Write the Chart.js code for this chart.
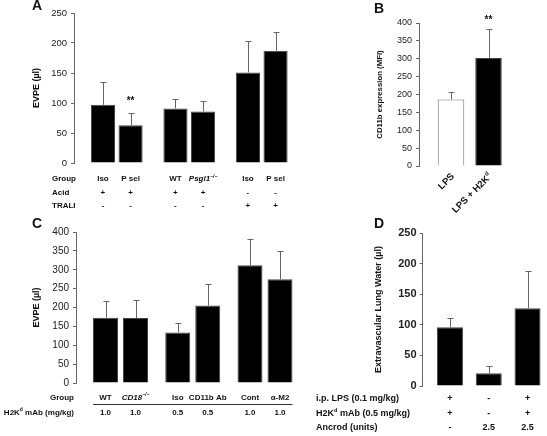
<!DOCTYPE html>
<html>
<head>
<meta charset="utf-8">
<script src="https://cdn.jsdelivr.net/npm/chart.js@4.4.1/dist/chart.umd.min.js"></script>
<style>
  html, body { margin: 0; padding: 0; background: #fff; }
  #wrap { position: relative; width: 547px; height: 436px; overflow: hidden; }
  canvas { position: absolute; }
  .letter { position: absolute; font: bold 14px "Liberation Sans", Arial, sans-serif; line-height: 14px; color: #111; }
</style>
</head>
<body>
<div id="wrap">
  <canvas id="cA" width="300" height="215" style="left:0;top:0"></canvas>
  <canvas id="cB" width="247" height="215" style="left:300px;top:0"></canvas>
  <canvas id="cC" width="300" height="221" style="left:0;top:215px"></canvas>
  <canvas id="cD" width="247" height="221" style="left:300px;top:215px"></canvas>
  <div class="letter" style="left:32px;top:-2px">A</div>
  <div class="letter" style="left:374px;top:1px">B</div>
  <div class="letter" style="left:32px;top:216px">C</div>
  <div class="letter" style="left:374px;top:216px">D</div>
</div>
<script>
// ---- data ----
// rich labels: plain string, or list of [text, flags] (i = italic, s = superscript)
const KO = [['−/−', 'is']];

// Panel A: acid / TRALI EVPE, pairs of bars
const aGroupIdx = [0, 1, 2];
const aLeft = [97, 91, 151];
const aLeftErr = [38, 16, 52];
const aRight = [63, 86, 187];
const aRightErr = [20, 17, 31];
const aRightStars = ['**', '', ''];
const aGroupL = ['Iso', 'WT', 'Iso'];
const aGroupR = ['P sel', [['Psgl1', 'i']].concat(KO), 'P sel'];
const aAcidL = ['+', '+', '-'];
const aAcidR = ['+', '+', '-'];
const aTraliL = ['-', '-', '+'];
const aTraliR = ['-', '-', '+'];
const aTicks = [0, 50, 100, 150, 200, 250];

// Panel B: CD11b expression
const bIdx = [0, 1];
const bValues = [186, 302];
const bErr = [20, 81];
const bStars = ['', '**'];
const bLabels = ['LPS', [['LPS + H2K', ''], ['d', 's']]];
const bTicks = [0, 50, 100, 150, 200, 250, 300, 350, 400];

// Panel C: EVPE after H2Kd mAb
const cGroupIdx = [0, 1, 2];
const cLeft = [173, 134, 312];
const cLeftErr = [45, 26, 70];
const cRight = [172, 205, 275];
const cRightErr = [49, 58, 75];
const cGroupL = ['WT', 'Iso', 'Cont'];
const cGroupR = [[['CD18', 'i']].concat(KO), 'CD11b Ab', 'α-M2'];
const cDoseL = ['1.0', '0.5', '1.0'];
const cDoseR = ['1.0', '0.5', '1.0'];
const cTicks = [0, 50, 100, 150, 200, 250, 300, 350, 400];

// Panel D: extravascular lung water
const dIdx = [0, 1, 2];
const dValues = [96, 21, 127];
const dErr = [15, 11, 61];
const dLps = ['+', '-', '+'];
const dMab = ['+', '-', '+'];
const dAncrod = ['-', '2.5', '2.5'];
const dTicks = [0, 50, 100, 150, 200, 250];

// ---- drawing helpers ----
const FONT = '"Liberation Sans", Arial, sans-serif';
const INK = '#111';

function drawRich(ctx, label, x, y, align, size, bold) {
  const parts = typeof label === 'string' ? [[label, '']] : label;
  const fontFor = f => (f.includes('i') ? 'italic ' : '') + (bold ? 'bold ' : '') +
    (f.includes('s') ? size * 0.62 : size) + 'px ' + FONT;
  let total = 0;
  parts.forEach(([t, f]) => { ctx.font = fontFor(f); total += ctx.measureText(t).width; });
  let cx = align === 'center' ? x - total / 2 : align === 'right' ? x - total : x;
  ctx.textAlign = 'left';
  ctx.textBaseline = 'middle';
  parts.forEach(([t, f]) => {
    ctx.font = fontFor(f);
    ctx.fillText(t, cx, f.includes('s') ? y - size * 0.35 : y);
    cx += ctx.measureText(t).width;
  });
}

const errorBars = {
  id: 'errorBars',
  afterDatasetsDraw(chart) {
    const { ctx } = chart;
    const yScale = chart.scales.y;
    ctx.save();
    chart.data.datasets.forEach((ds, di) => {
      chart.getDatasetMeta(di).data.forEach((bar, i) => {
        const v = ds.data[i].y;
        const top = Math.round(yScale.getPixelForValue(v + ds.errors[i])) + 0.5;
        const x = Math.round(bar.x) + 0.5;
        ctx.strokeStyle = '#666';
        ctx.lineWidth = 1;
        ctx.beginPath();
        ctx.moveTo(x, bar.y);
        ctx.lineTo(x, top);
        ctx.moveTo(x - 3, top);
        ctx.lineTo(x + 3, top);
        ctx.stroke();
        if (ds.stars && ds.stars[i]) {
          ctx.fillStyle = INK;
          drawRich(ctx, ds.stars[i], bar.x, top - ds.starGap, 'center', 10, true);
        }
      });
    });
    ctx.restore();
  }
};

// table of row labels under the bars, columns follow the bars
function tablePlugin(cfg) {
  return {
    id: 'table',
    afterDraw(chart) {
      const ctx = chart.ctx;
      ctx.save();
      ctx.fillStyle = INK;
      cfg.rows.forEach(row => {
        drawRich(ctx, row.head, cfg.headX, row.y, cfg.headAlign, cfg.size, true);
        row.cells.forEach((cells, di) => {
          chart.getDatasetMeta(di).data.forEach((bar, i) => {
            drawRich(ctx, cells[i], bar.x, row.y, 'center', cfg.size, true);
          });
        });
      });
      if (cfg.ruleY) {
        const first = chart.getDatasetMeta(0).data[0];
        const lastMeta = chart.getDatasetMeta(chart.data.datasets.length - 1).data;
        const last = lastMeta[lastMeta.length - 1];
        ctx.strokeStyle = '#333';
        ctx.lineWidth = 1;
        ctx.beginPath();
        ctx.moveTo(first.x - first.width / 2, cfg.ruleY + 0.5);
        ctx.lineTo(last.x + last.width / 2, cfg.ruleY + 0.5);
        ctx.stroke();
      }
      if (cfg.rotated) {
        chart.getDatasetMeta(0).data.forEach((bar, i) => {
          ctx.save();
          ctx.translate(bar.x + 2, chart.chartArea.bottom + 9);
          ctx.rotate(-Math.PI / 4);
          drawRich(ctx, cfg.rotated[i], 0, 0, 'right', cfg.size, true);
          ctx.restore();
        });
      }
      ctx.restore();
    }
  };
}

function yScale(ticks, w, tickFont, title, titleFont, tickLen, tickPad) {
  return {
    min: 0,
    max: ticks[ticks.length - 1],
    afterFit: s => { s.width = w; },
    afterBuildTicks: s => { s.ticks = ticks.map(v => ({ value: v })); },
    ticks: { font: tickFont, color: '#222', padding: tickPad },
    grid: { drawOnChartArea: false, tickLength: tickLen, color: '#666' },
    border: { color: '#666' },
    title: { display: true, text: title, font: titleFont, color: INK, padding: { top: 4, bottom: 0 } }
  };
}

function xScale(idx, min, max) {
  return {
    type: 'linear',
    display: false,
    offset: false,
    grid: { offset: false },
    min, max,
    afterBuildTicks: s => { s.ticks = idx.map(v => ({ value: v })); }
  };
}

const pts = (idx, vals) => vals.map((v, i) => ({ x: idx[i], y: v }));

function makeChart(id, datasets, scales, padding, plugins, barOpts) {
  return new Chart(document.getElementById(id), {
    type: 'bar',
    data: { datasets },
    options: {
      responsive: false,
      animation: false,
      devicePixelRatio: 1,
      layout: { padding },
      datasets: { bar: barOpts },
      plugins: { legend: { display: false }, tooltip: { enabled: false } },
      scales
    },
    plugins: [errorBars].concat(plugins)
  });
}

const blackBar = { backgroundColor: '#000', borderColor: '#444', borderWidth: 1 };

// Panel A
makeChart('cA', [
  Object.assign({ data: pts(aGroupIdx, aLeft), errors: aLeftErr }, blackBar),
  Object.assign({ data: pts(aGroupIdx, aRight), errors: aRightErr, stars: aRightStars, starGap: 12 }, blackBar)
], {
  x: xScale(aGroupIdx, -0.59, 2.5),
  y: yScale(aTicks, 47, { family: FONT, size: 9.5 }, 'EVPE (µl)', { family: FONT, size: 9, weight: 'bold' }, 3, 4)
}, { left: 27, top: 13, right: 2, bottom: 52 }, [tablePlugin({
  headX: 52, headAlign: 'left', size: 8,
  rows: [
    { head: 'Group', y: 179, cells: [aGroupL, aGroupR] },
    { head: 'Acid', y: 192.5, cells: [aAcidL, aAcidR] },
    { head: 'TRALI', y: 206, cells: [aTraliL, aTraliR] }
  ]
})], { categoryPercentage: 0.762, barPercentage: 0.873 });

// Panel B
makeChart('cB', [{
  data: pts(bIdx, bValues), errors: bErr, stars: bStars, starGap: 9,
  backgroundColor: ['#fff', '#000'], borderColor: ['#777', '#444'], borderWidth: 1
}], {
  x: xScale(bIdx, -0.853, 1.573),
  y: yScale(bTicks, 48, { family: FONT, size: 9 }, 'CD11b expression (MFI)', { family: FONT, size: 7.8, weight: 'bold' }, 3, 4)
}, { left: 71, top: 23, right: 37, bottom: 49 }, [tablePlugin({
  headX: 0, headAlign: 'left', size: 9.5, rows: [], rotated: bLabels
})], { categoryPercentage: 1, barPercentage: 0.707 });

// Panel C
makeChart('cC', [
  Object.assign({ data: pts(cGroupIdx, cLeft), errors: cLeftErr }, blackBar),
  Object.assign({ data: pts(cGroupIdx, cRight), errors: cRightErr }, blackBar)
], {
  x: xScale(cGroupIdx, -0.616, 2.457),
  y: yScale(cTicks, 49, { family: FONT, size: 10 }, 'EVPE (µl)', { family: FONT, size: 9, weight: 'bold' }, 3, 4)
}, { left: 27, top: 17, right: 2, bottom: 53 }, [tablePlugin({
  headX: 74, headAlign: 'right', size: 8, ruleY: 189,
  rows: [
    { head: 'Group', y: 182.5, cells: [cGroupL, cGroupR] },
    { head: [['H2K', ''], ['d', 's'], [' mAb (mg/kg)', '']], y: 197.5, cells: [cDoseL, cDoseR] }
  ]
})], { categoryPercentage: 0.8306, barPercentage: 0.833 });

// Panel D
makeChart('cD', [
  Object.assign({ data: pts(dIdx, dValues), errors: dErr }, blackBar)
], {
  x: xScale(dIdx, -0.705, 2.45),
  y: yScale(dTicks, 53, { family: FONT, size: 11, weight: 'bold' }, 'Extravascular Lung Water (µl)', { family: FONT, size: 9, weight: 'bold' }, 3, 3)
}, { left: 69.6, top: 18, right: 2, bottom: 50 }, [tablePlugin({
  headX: 16, headAlign: 'left', size: 9,
  rows: [
    { head: 'i.p. LPS (0.1 mg/kg)', y: 184, cells: [dLps] },
    { head: [['H2K', ''], ['d', 's'], [' mAb (0.5 mg/kg)', '']], y: 198.5, cells: [dMab] },
    { head: 'Ancrod (units)', y: 212.5, cells: [dAncrod] }
  ]
})], { categoryPercentage: 1, barPercentage: 0.671 });
</script>
</body>
</html>
